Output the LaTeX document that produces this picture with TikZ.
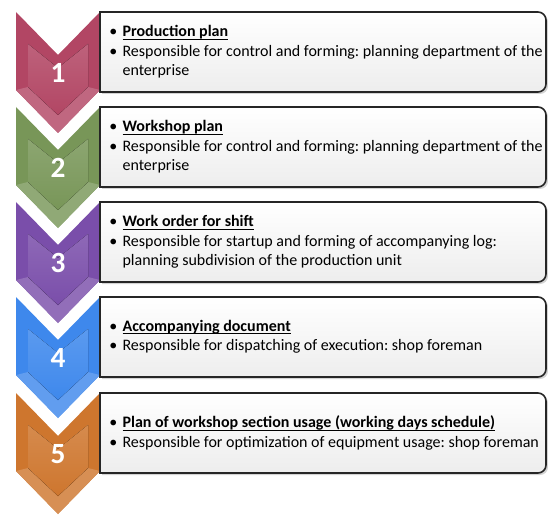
\documentclass[tikz,border=0pt]{standalone}
\usepackage{fontspec}
\setmainfont{Carlito}
\usepackage{tikz}
\usetikzlibrary{positioning,calc,shadows}

\definecolor{framboise}{RGB}{178,70,100}
\definecolor{olive}{RGB}{120,150,88}
\definecolor{violet}{RGB}{122,78,170}
\definecolor{azur}{RGB}{62,136,236}
\definecolor{cuivre}{RGB}{206,118,46}
\newlength{\largeurtitre}
\newcommand{\titre}[1]{\settowidth{\largeurtitre}{\textbf{#1}}\rlap{\rule[-2pt]{\largeurtitre}{0.65pt}}\textbf{#1}}
\newcommand{\puce}{\textbullet\hspace{4pt}}
\newcommand{\retrait}{\hphantom{\textbullet\hspace{4pt}}}
\frenchspacing

\begin{document}
\begin{tikzpicture}[x=0.75pt,y=-0.75pt]
\tikzstyle{cadre}=[draw=black!85,line width=1.2pt,top color=white,middle color=white,bottom color=black!7,drop shadow={shadow xshift=1.5pt,shadow yshift=-1.5pt,opacity=0.35}]
\tikzstyle{texte}=[anchor=west,inner sep=0pt,align=left,font=\fontsize{12}{14.6}\selectfont]
\tikzstyle{chiffre}=[text=white,inner sep=0pt,font=\fontsize{22}{22}\selectfont\bfseries]
\def\EtapeA{12}
\def\EtapeB{107}
\def\EtapeC{202}
\def\EtapeD{297}
\def\EtapeE{393}
\def\Contour{(16,0) -- (58,43) -- (100,0) -- (100,78) -- (58,121) -- (16,78) -- cycle}
\def\Biseau{(28,32) -- (58,56) -- (88,32) -- (88,75) -- (58,103) -- (28,75) -- cycle}
\def\Pointe{(16,78) -- (58,121) -- (100,78) -- (88,75) -- (58,103) -- (28,75) -- cycle}
\def\Cadre{(100,0) -- (538,0) arc[start angle=90,end angle=0,radius=6pt] -- (546,72) arc[start angle=0,end angle=-90,radius=6pt] -- (100,80) -- cycle}
\useasboundingbox (0,0) rectangle (548,516);
% etape 1
\fill[framboise,shift={(0,\EtapeA)}] \Contour;
\fill[framboise!82!white,shift={(0,\EtapeA)}] \Pointe;
\fill[top color=framboise!85!white,bottom color=framboise,shift={(0,\EtapeA)}] \Biseau;
\draw[cadre,shift={(0,\EtapeA)}] \Cadre;
\node[chiffre] (ChiffreA) at (58,\EtapeA+61) {1};
\node[texte] (TexteA) at (109,\EtapeA+40) {\puce\titre{Production plan}\\
\puce Responsible for control and forming: planning department of the\\
\retrait enterprise};
% etape 2
\fill[olive,shift={(0,\EtapeB)}] \Contour;
\fill[olive!82!white,shift={(0,\EtapeB)}] \Pointe;
\fill[top color=olive!85!white,bottom color=olive,shift={(0,\EtapeB)}] \Biseau;
\draw[cadre,shift={(0,\EtapeB)}] \Cadre;
\node[chiffre] (ChiffreB) at (58,\EtapeB+61) {2};
\node[texte] (TexteB) at (109,\EtapeB+40) {\puce\titre{Workshop plan}\\
\puce Responsible for control and forming: planning department of the\\
\retrait enterprise};
% etape 3
\fill[violet,shift={(0,\EtapeC)}] \Contour;
\fill[violet!82!white,shift={(0,\EtapeC)}] \Pointe;
\fill[top color=violet!85!white,bottom color=violet,shift={(0,\EtapeC)}] \Biseau;
\draw[cadre,shift={(0,\EtapeC)}] \Cadre;
\node[chiffre] (ChiffreC) at (58,\EtapeC+61) {3};
\node[texte] (TexteC) at (109,\EtapeC+40) {\puce\titre{Work order for shift}\\
\puce Responsible for startup and forming of accompanying log:\\
\retrait planning subdivision of the production unit};
% etape 4
\fill[azur,shift={(0,\EtapeD)}] \Contour;
\fill[azur!82!white,shift={(0,\EtapeD)}] \Pointe;
\fill[top color=azur!85!white,bottom color=azur,shift={(0,\EtapeD)}] \Biseau;
\draw[cadre,shift={(0,\EtapeD)}] \Cadre;
\node[chiffre] (ChiffreD) at (58,\EtapeD+61) {4};
\node[texte] (TexteD) at (109,\EtapeD+40) {\puce\titre{Accompanying document}\\
\puce Responsible for dispatching of execution: shop foreman};
% etape 5
\fill[cuivre,shift={(0,\EtapeE)}] \Contour;
\fill[cuivre!82!white,shift={(0,\EtapeE)}] \Pointe;
\fill[top color=cuivre!85!white,bottom color=cuivre,shift={(0,\EtapeE)}] \Biseau;
\draw[cadre,shift={(0,\EtapeE)}] \Cadre;
\node[chiffre] (ChiffreE) at (58,\EtapeE+61) {5};
\node[texte] (TexteE) at (109,\EtapeE+40) {\puce\titre{Plan of workshop section usage (working days schedule)}\\
\puce Responsible for optimization of equipment usage: shop foreman};
\end{tikzpicture}
\end{document}
